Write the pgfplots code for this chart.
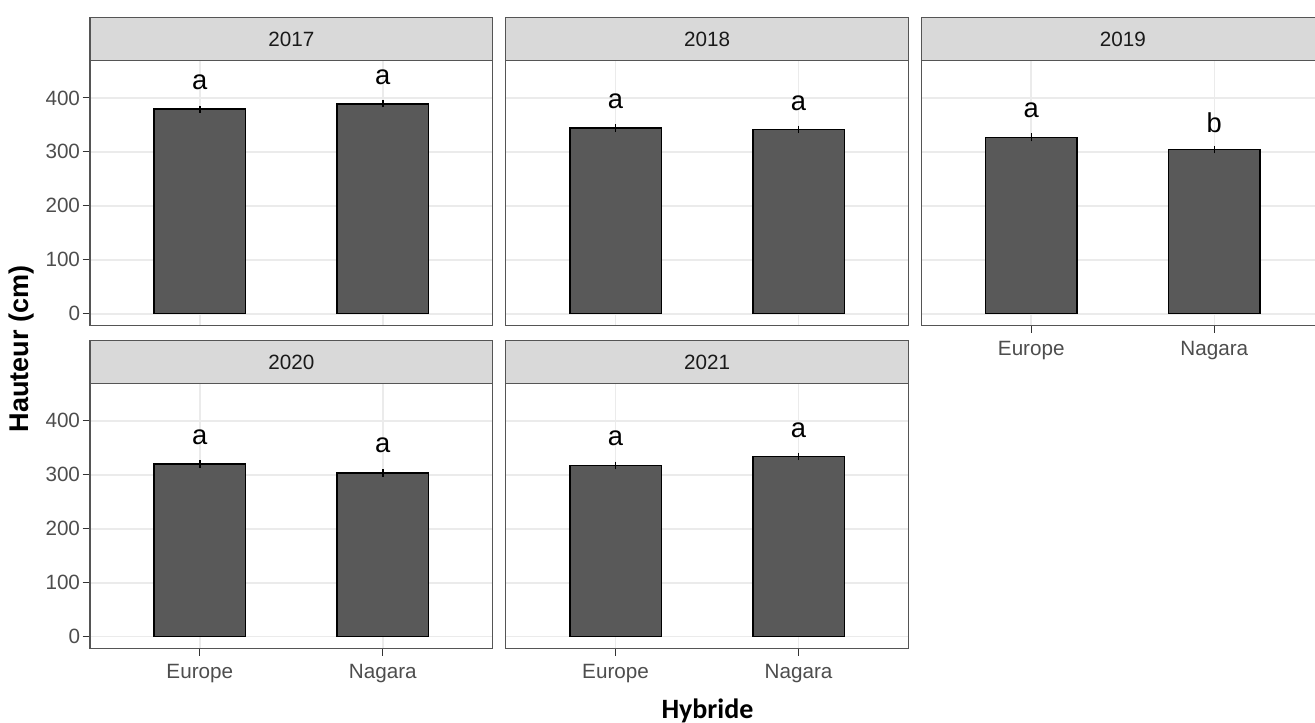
\documentclass[border=0pt]{standalone}
\usepackage{pgfplots}
\usepackage{pgfplotstable}
\pgfplotsset{compat=1.18}
\usepackage{fontspec}
\setmainfont{Liberation Sans}
\newfontfamily\carlito{Carlito}
\definecolor{gridc}{HTML}{EBEBEB}
\definecolor{borderc}{HTML}{555555}
\definecolor{tickmc}{HTML}{333333}
\definecolor{stripc}{HTML}{D9D9D9}
\definecolor{tickc}{HTML}{4D4D4D}
\definecolor{stript}{HTML}{1A1A1A}
\definecolor{barc}{HTML}{595959}

\pgfplotstableread{
x y e ly lab
1 379 6.5 429 a
2 389 6.8 439 a
}\dA
\pgfplotstableread{
x y e ly lab
1 344 7.5 393 a
2 341.5 7 390 a
}\dB
\pgfplotstableread{
x y e ly lab
1 327 7.5 377 a
2 304 7 354 b
}\dC
\pgfplotstableread{
x y e ly lab
1 320 6.8 370 a
2 303 7 354 a
}\dD
\pgfplotstableread{
x y e ly lab
1 317.5 6.8 367 a
2 334 7 383 a
}\dE

\pgfplotsset{
  panel/.style={
    scale only axis, width=302pt, height=198.5pt,
    anchor=south west,
    xmin=0.4, xmax=2.6, ymin=-21.5, ymax=469,
    xtick={1,2}, xticklabels={Europe,Nagara},
    ytick={0,100,200,300,400},
    xmajorgrids, ymajorgrids,
    major grid style={draw=gridc, line width=1.2pt},
    axis line style={draw=borderc, line width=0.9pt},
    tick align=outside, xtick pos=bottom, ytick pos=left,
    major tick length=5.5pt,
    tick style={draw=tickmc, line width=0.8pt},
    tick label style={font=\fontsize{15.5}{18}\selectfont, text=tickc},
    xticklabel style={inner sep=0pt, yshift=-6.5pt},
    yticklabel style={inner sep=1.8pt},
    /pgf/number format/assume math mode=true,
    clip=false,
  },
  noxlab/.style={xticklabels={}, xtick style={draw=none}},
  noylab/.style={yticklabels={}, ytick style={draw=none}},
  bars/.style={ybar, bar width=0.5, fill=barc, draw=black, line width=1.1pt,
    error bars/.cd, y dir=both, y explicit, error mark=none,
    error bar style={line width=1.1pt, black}},
  labs/.style={draw=none, mark=none, nodes near coords, point meta=explicit symbolic,
    nodes near coords style={anchor=center, text=black, font=\fontsize{20.5}{24}\selectfont}},
}

\newcommand\strip[2]{%
  \draw[fill=stripc, draw=borderc, line width=0.9pt] (#1.north west) rectangle ([yshift=32.25pt]#1.north east);
  \node[text=stript, font=\fontsize{15.5}{18}\selectfont] at ([yshift=16.1pt]#1.north) {#2};
}

\begin{document}
\begin{tikzpicture}
\useasboundingbox (0,0) rectangle (986.25pt,-542.25pt);
\clip (0,0) rectangle (986.25pt,-542.25pt);

\begin{axis}[panel, noxlab, name=p1, at={(67.5pt,-244pt)}]
\addplot[bars] table[x=x, y=y, y error=e] {\dA};
\addplot[labs] table[x=x, y=ly, meta=lab] {\dA};
\end{axis}

\begin{axis}[panel, noxlab, noylab, name=p2, at={(379.3pt,-244pt)}]
\addplot[bars] table[x=x, y=y, y error=e] {\dB};
\addplot[labs] table[x=x, y=ly, meta=lab] {\dB};
\end{axis}

\begin{axis}[panel, noylab, name=p3, at={(691.1pt,-244pt)}]
\addplot[bars] table[x=x, y=y, y error=e] {\dC};
\addplot[labs] table[x=x, y=ly, meta=lab] {\dC};
\end{axis}

\begin{axis}[panel, name=p4, at={(67.5pt,-486.2pt)}]
\addplot[bars] table[x=x, y=y, y error=e] {\dD};
\addplot[labs] table[x=x, y=ly, meta=lab] {\dD};
\end{axis}

\begin{axis}[panel, noylab, name=p5, at={(379.3pt,-486.2pt)}]
\addplot[bars] table[x=x, y=y, y error=e] {\dE};
\addplot[labs] table[x=x, y=ly, meta=lab] {\dE};
\end{axis}

\strip{p1}{2017}
\strip{p2}{2018}
\strip{p3}{2019}
\strip{p4}{2020}
\strip{p5}{2021}

\node[rotate=90, font=\bfseries\fontsize{20.3}{24}\selectfont] at (16.5pt,-261.75pt) {Hauteur (cm)};
\node[anchor=base, font=\carlito\bfseries\fontsize{21}{25}\selectfont] at (530.6pt,-538.7pt) {Hybride};
\end{tikzpicture}
\end{document}
